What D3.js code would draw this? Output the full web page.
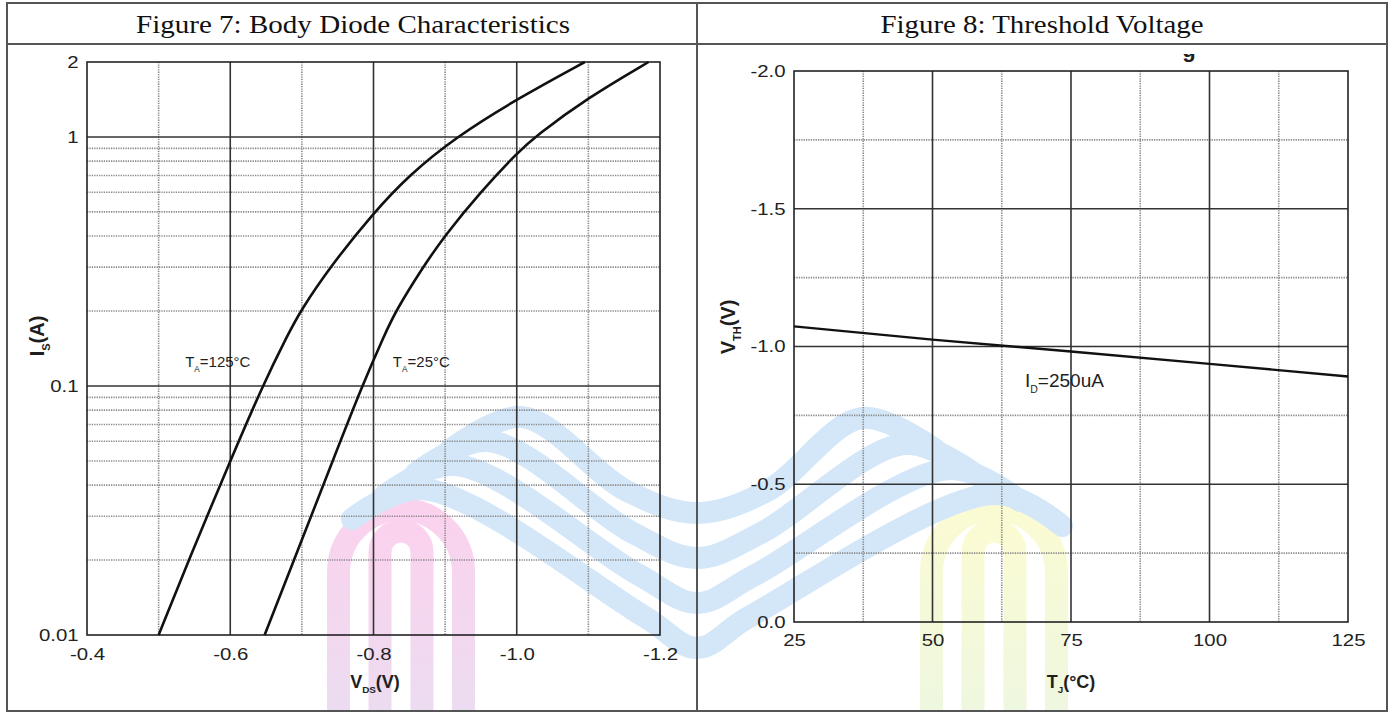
<!DOCTYPE html>
<html>
<head>
<meta charset="utf-8">
<script src="https://cdn.jsdelivr.net/npm/d3@7"></script>
<style>
  body { margin: 0; background: #fff; }
  svg { display: block; }
</style>
</head>
<body>
<script>
// Data

// Figure 7 - body diode, Is vs Vds
const vdsTicks = [-0.4, -0.6, -0.8, -1.0, -1.2];
const vdsLabels = ['-0.4', '-0.6', '-0.8', '-1.0', '-1.2'];
const vdsMajor = [-0.6, -0.8, -1.0];
const vdsMinor = [-0.5, -0.7, -0.9, -1.1];
const isTicks = [0.01, 0.1, 1, 2];
const isLabels = ['0.01', '0.1', '1', '2'];
const isMajor = [0.1, 1];
const isMinor = [0.02, 0.03, 0.04, 0.05, 0.06, 0.07, 0.08, 0.09, 0.2, 0.3, 0.4, 0.5, 0.6, 0.7, 0.8, 0.9];

const vds125 = [-0.50, -0.542, -0.60, -0.645, -0.681, -0.698, -0.739, -0.801, -0.849, -0.915, -1.002, -1.095];
const is125 = [0.01, 0.02, 0.05, 0.1, 0.162, 0.2, 0.3, 0.5, 0.7, 1.0, 1.43, 2.0];
const vds25 = [-0.648, -0.689, -0.743, -0.784, -0.816, -0.831, -0.869, -0.899, -0.949, -1.002, -1.025, -1.098, -1.184];
const is25 = [0.01, 0.02, 0.05, 0.1, 0.162, 0.2, 0.3, 0.4, 0.6, 0.87, 1.0, 1.43, 2.0];

// Figure 8 - threshold voltage vs Tj
const tjTicks = [25, 50, 75, 100, 125];
const tjLabels = ['25', '50', '75', '100', '125'];
const tjMajor = [50, 75, 100];
const tjMinor = [37.5, 62.5, 87.5, 112.5];
const vthTicks = [-2.0, -1.5, -1.0, -0.5, 0.0];
const vthLabels = ['-2.0', '-1.5', '-1.0', '-0.5', '0.0'];
const vthMajor = [-1.5, -1.0, -0.5];
const vthMinor = [-1.75, -1.25, -0.75, -0.25];

const tj = [25, 50, 75, 100, 125];
const vth = [-1.073, -1.025, -0.982, -0.937, -0.891];

// Setup

const W = 1391, H = 713;
const FONT = 'Arial, "Liberation Sans", sans-serif';
const SERIF = '"Times New Roman", "Liberation Serif", serif';
const INK = '#1e1e1e';

const svg = d3.select('body').append('svg')
    .attr('width', W)
    .attr('height', H);

const defs = svg.append('defs');
function grad(id, top, bottom) {
  let g = defs.append('linearGradient').attr('id', id)
      .attr('x1', 0).attr('y1', 0).attr('x2', 0).attr('y2', 1);
  g.append('stop').attr('offset', '0%').attr('stop-color', top);
  g.append('stop').attr('offset', '100%').attr('stop-color', bottom);
}
grad('pink', '#fbd2ee', '#ecdcf1');
grad('yell', '#fbfbd3', '#eef7df');

// Watermark (faint logo behind both charts)

function arches(cx, color) {
  let wm = svg.append('g')
      .attr('fill', 'none')
      .attr('stroke', color)
      .attr('stroke-width', 23);
  // outer and inner arch, legs run down to the table edge
  [62.5, 21].forEach(function (r) {
    let top = r > 30 ? 572 : 552;
    wm.append('path')
      .attr('d', 'M' + (cx - r) + ',711 V' + top + ' A' + r + ',' + r + ' 0 0 1 ' + (cx + r) + ',' + top + ' V711');
  });
}
arches(401, 'url(#pink)');
arches(994, 'url(#yell)');

const bands = [
  {le: [450, 450], lc: [522, 417], ty: 513, rc: [862, 418], re: [936, 450]},
  {le: [416, 473], lc: [488, 441], ty: 558, rc: [905, 444], re: [978, 476]},
  {le: [384, 496], lc: [455, 465], ty: 603, rc: [950, 469], re: [1020, 501]},
  {le: [352, 519], lc: [422, 489], ty: 648, rc: [995, 494], re: [1062, 526]}
];

function bandPoints(b, i) {
  const tx = 697;
  const dx = 70 - 6 * i, dy = 22 + 3 * i;
  return [
    b.le,
    b.lc,
    [tx - dx, b.ty - dy],
    [tx, b.ty],
    [tx + dx, b.ty - dy],
    b.rc,
    b.re
  ];
}

const bandLine = d3.line().curve(d3.curveCatmullRom.alpha(0.5));
svg.append('g')
    .attr('fill', 'none')
    .attr('stroke', '#d3e7f9')
    .attr('stroke-width', 22)
    .attr('stroke-linecap', 'round')
  .selectAll('path')
  .data(bands)
  .join('path')
    .attr('d', function (b, i) { return bandLine(bandPoints(b, i)); });

// Helpers

function grid(g, xs, ys, xMaj, xMin, yMaj, yMin) {
  let r0 = xs.range(), r1 = ys.range();
  let x0 = Math.min(r0[0], r0[1]), x1 = Math.max(r0[0], r0[1]);
  let y0 = Math.min(r1[0], r1[1]), y1 = Math.max(r1[0], r1[1]);
  let minor = g.append('g').attr('stroke', '#8a8a8a').attr('stroke-width', 1.6).attr('stroke-dasharray', '1.3,1.1');
  minor.selectAll('.vm').data(xMin).join('line')
      .attr('x1', xs).attr('x2', xs).attr('y1', y0).attr('y2', y1);
  minor.selectAll('.hm').data(yMin).join('line')
      .attr('y1', ys).attr('y2', ys).attr('x1', x0).attr('x2', x1);
  let major = g.append('g').attr('stroke', '#333').attr('stroke-width', 1.6);
  major.selectAll('.vM').data(xMaj).join('line')
      .attr('x1', xs).attr('x2', xs).attr('y1', y0).attr('y2', y1);
  major.selectAll('.hM').data(yMaj).join('line')
      .attr('y1', ys).attr('y2', ys).attr('x1', x0).attr('x2', x1);
  g.append('rect')
      .attr('x', x0).attr('y', y0)
      .attr('width', x1 - x0).attr('height', y1 - y0)
      .attr('fill', 'none').attr('stroke', '#222').attr('stroke-width', 1.6);
}

function styleAxis(a) {
  a.select('.domain').remove();
  a.attr('font-family', FONT).attr('font-size', 17);
  a.selectAll('text').attr('fill', '#222').attr('transform', 'scale(1.2,1)');
}

// sub-scripted label: base, sub, rest
function subText(g, x, y, base, sub, rest, size, bold, anchor, rot) {
  let t = g.append('text')
      .attr('transform', 'translate(' + x + ',' + y + ')' + (rot ? ' rotate(-90)' : ''))
      .attr('font-family', FONT)
      .attr('font-size', size)
      .attr('font-weight', bold ? 'bold' : 'normal')
      .attr('text-anchor', anchor || 'start')
      .attr('fill', INK);
  t.append('tspan').text(base);
  t.append('tspan').attr('font-size', size * 0.55).attr('dy', size * 0.3).text(sub);
  t.append('tspan').attr('dy', -size * 0.3).text(rest);
  return t;
}

// Figure 7

const xL = d3.scaleLinear().domain([-0.4, -1.2]).range([87, 660]);
const yL = d3.scaleLog().domain([0.01, 2]).range([635, 62]);

const left = svg.append('g');
grid(left, xL, yL, vdsMajor, vdsMinor, isMajor, isMinor);

const lineL = d3.line()
    .x(function (d) { return xL(d[0]); })
    .y(function (d) { return yL(d[1]); })
    .curve(d3.curveBasis);

left.selectAll('.curve')
  .data([d3.zip(vds125, is125), d3.zip(vds25, is25)])
  .join('path')
    .attr('d', lineL)
    .attr('fill', 'none')
    .attr('stroke', '#111')
    .attr('stroke-width', 2.6);

left.append('g')
    .attr('transform', 'translate(0,635)')
    .call(d3.axisBottom(xL).tickValues(vdsTicks).tickSize(0).tickPadding(13)
        .tickFormat(function (d, i) { return vdsLabels[i]; }))
    .call(styleAxis);

left.append('g')
    .attr('transform', 'translate(87,0)')
    .call(d3.axisLeft(yL).tickValues(isTicks).tickSize(0).tickPadding(7)
        .tickFormat(function (d, i) { return isLabels[i]; }))
    .call(styleAxis);

subText(left, 375, 688, 'V', 'DS', '(V)', 18, true, 'middle');
subText(left, 44, 336, 'I', 'S', '(A)', 20, true, 'middle', true);

subText(left, xL(-0.537), yL(0.119), 'T', 'A', '=125°C', 15, false);
subText(left, xL(-0.827), yL(0.119), 'T', 'A', '=25°C', 15, false);

// Figure 8

const xR = d3.scaleLinear().domain([25, 125]).range([794, 1348]);
const yR = d3.scaleLinear().domain([0, -2]).range([622, 71]);

const right = svg.append('g');
grid(right, xR, yR, tjMajor, tjMinor, vthMajor, vthMinor);

const lineR = d3.line()
    .x(function (d) { return xR(d[0]); })
    .y(function (d) { return yR(d[1]); });

right.append('path')
    .datum(d3.zip(tj, vth))
    .attr('d', lineR)
    .attr('fill', 'none')
    .attr('stroke', '#111')
    .attr('stroke-width', 2.4);

right.append('g')
    .attr('transform', 'translate(0,622)')
    .call(d3.axisBottom(xR).tickValues(tjTicks).tickSize(0).tickPadding(12)
        .tickFormat(function (d, i) { return tjLabels[i]; }))
    .call(styleAxis);

right.append('g')
    .attr('transform', 'translate(794,0)')
    .call(d3.axisLeft(yR).tickValues(vthTicks).tickSize(0).tickPadding(7)
        .tickFormat(function (d, i) { return vthLabels[i]; }))
    .call(styleAxis);

subText(right, 1071, 688, 'T', 'J', '(°C)', 18, true, 'middle');
subText(right, 735, 327, 'V', 'TH', '(V)', 20, true, 'middle', true);
subText(right, xR(66.7), yR(-0.853), 'I', 'D', '=250uA', 19, false);

// leftover of the original chart title, cut off at the top
defs.append('clipPath').attr('id', 'cut')
  .append('rect').attr('x', 1150).attr('y', 54).attr('width', 80).attr('height', 20);
right.append('text')
    .attr('clip-path', 'url(#cut)')
    .attr('x', 1189).attr('y', 57)
    .attr('text-anchor', 'middle')
    .attr('font-family', FONT)
    .attr('font-weight', 'bold')
    .attr('font-size', 22)
    .attr('fill', INK)
    .text('g');

// Table frame and headers

const frame = svg.append('g')
    .attr('stroke', '#555')
    .attr('stroke-width', 2)
    .attr('fill', 'none');
frame.append('rect').attr('x', 7).attr('y', 3).attr('width', 1380).attr('height', 708);
frame.append('line').attr('x1', 7).attr('x2', 1387).attr('y1', 44).attr('y2', 44);
frame.append('line').attr('x1', 697).attr('x2', 697).attr('y1', 3).attr('y2', 711);

const heads = [
  {text: 'Figure 7: Body Diode Characteristics', cx: 353, len: 434},
  {text: 'Figure 8: Threshold Voltage', cx: 1042, len: 323}
];
svg.selectAll('.head')
  .data(heads)
  .join('text')
    .attr('x', function (d) { return d.cx - d.len / 2; })
    .attr('y', 33)
    .attr('textLength', function (d) { return d.len; })
    .attr('lengthAdjust', 'spacingAndGlyphs')
    .attr('font-family', SERIF)
    .attr('font-size', 25)
    .attr('fill', '#111')
    .text(function (d) { return d.text; });
</script>
</body>
</html>
